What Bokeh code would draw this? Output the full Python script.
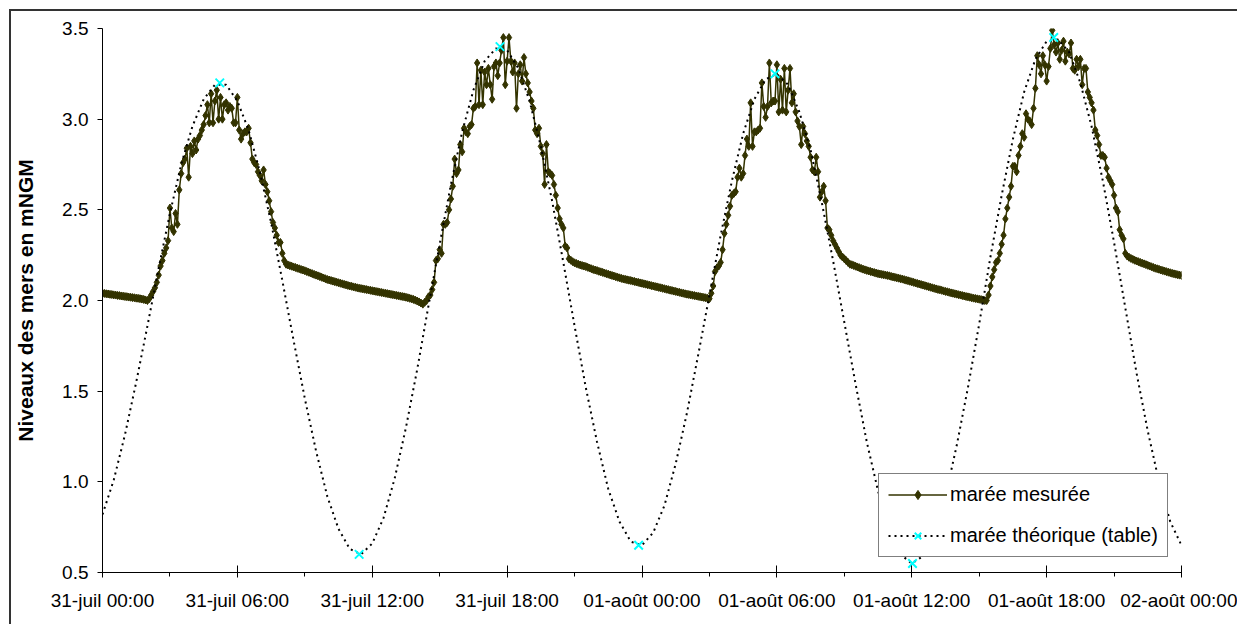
import pandas as pd
from bokeh.plotting import figure
from bokeh.models import (Range1d, FixedTicker, NumeralTickFormatter, CustomJSTickFormatter,
                          Legend, LegendItem)
from bokeh.embed import file_html
from bokeh.resources import INLINE

start = "2009-07-31 00:00"

# measured tide, one value every 5 minutes (12 per hour), 31-juil 00:00 -> 02-août 00:00
measured_levels = [
    2.040, 2.039, 2.037, 2.036, 2.034, 2.033, 2.031, 2.030, 2.028, 2.027, 2.025, 2.024,
    2.022, 2.021, 2.019, 2.018, 2.016, 2.015, 2.013, 2.012, 2.010, 2.008, 2.006, 2.003,
    2.00, 2.01, 2.03, 2.05, 2.07, 2.10, 2.14, 2.19, 2.22, 2.26, 2.29, 2.33,
    2.51, 2.40, 2.38, 2.48, 2.42, 2.61, 2.70, 2.76, 2.78, 2.84, 2.68, 2.85,
    2.81, 2.88, 2.83, 2.89, 2.91, 2.94, 2.97, 3.02, 3.08, 2.98, 3.14, 2.98,
    3.10, 3.16, 3.00, 3.12, 3.00, 3.08, 3.09, 3.05, 3.07, 3.06, 2.98, 2.98,
    3.12, 2.94, 2.89, 2.92, 2.93, 2.93, 2.95, 2.87, 2.78, 2.76, 2.75, 2.71,
    2.69, 2.66, 2.72, 2.64, 2.60, 2.55, 2.49, 2.43, 2.40, 2.36, 2.32, 2.32,
    2.26, 2.22, 2.200, 2.196, 2.192, 2.189, 2.185, 2.182, 2.178, 2.175, 2.171, 2.168,
    2.164, 2.160, 2.156, 2.152, 2.148, 2.144, 2.140, 2.136, 2.132, 2.128, 2.124, 2.120,
    2.116, 2.113, 2.110, 2.107, 2.104, 2.101, 2.098, 2.095, 2.092, 2.089, 2.086, 2.083,
    2.080, 2.078, 2.075, 2.073, 2.070, 2.068, 2.066, 2.064, 2.062, 2.060, 2.058, 2.056,
    2.054, 2.052, 2.050, 2.048, 2.046, 2.044, 2.042, 2.040, 2.038, 2.036, 2.034, 2.032,
    2.030, 2.028, 2.026, 2.024, 2.022, 2.020, 2.018, 2.015, 2.012, 2.009, 2.006, 2.002,
    1.997, 1.992, 1.986, 1.980, 1.99, 2.00, 2.02, 2.03, 2.06, 2.10, 2.22, 2.23,
    2.28, 2.26, 2.42, 2.42, 2.43, 2.50, 2.56, 2.63, 2.78, 2.70, 2.72, 2.86,
    2.82, 2.95, 2.93, 2.92, 2.96, 2.97, 3.06, 3.07, 3.31, 3.08, 3.27, 3.08,
    3.26, 3.19, 3.28, 3.19, 3.11, 3.29, 3.31, 3.24, 3.31, 3.38, 3.45, 3.19,
    3.32, 3.45, 3.32, 3.26, 3.31, 3.06, 3.25, 3.30, 3.21, 3.34, 3.25, 3.20,
    3.15, 3.10, 3.06, 2.94, 2.92, 2.95, 2.85, 2.81, 2.64, 2.86, 2.71, 2.70,
    2.69, 2.64, 2.58, 2.51, 2.45, 2.42, 2.40, 2.30, 2.29, 2.23, 2.222, 2.214,
    2.208, 2.204, 2.200, 2.196, 2.193, 2.190, 2.187, 2.183, 2.179, 2.175, 2.171, 2.168,
    2.165, 2.161, 2.158, 2.155, 2.151, 2.148, 2.145, 2.141, 2.138, 2.135, 2.131, 2.128,
    2.125, 2.122, 2.119, 2.117, 2.114, 2.112, 2.110, 2.107, 2.105, 2.102, 2.100, 2.097,
    2.095, 2.092, 2.090, 2.087, 2.085, 2.082, 2.080, 2.077, 2.075, 2.072, 2.070, 2.067,
    2.065, 2.062, 2.060, 2.057, 2.055, 2.052, 2.050, 2.047, 2.045, 2.042, 2.040, 2.037,
    2.035, 2.033, 2.031, 2.029, 2.027, 2.025, 2.023, 2.021, 2.019, 2.017, 2.015, 2.012,
    2.01, 2.04, 2.08, 2.16, 2.18, 2.19, 2.21, 2.28, 2.37, 2.42, 2.47, 2.52,
    2.58, 2.59, 2.60, 2.68, 2.73, 2.68, 2.70, 2.80, 2.89, 2.85, 3.09, 2.85,
    2.93, 2.93, 2.94, 2.95, 3.20, 3.07, 3.01, 3.07, 3.31, 3.09, 3.10, 3.10,
    3.30, 3.04, 3.22, 3.05, 3.28, 3.04, 3.16, 3.28, 3.09, 3.14, 3.04, 2.99,
    2.96, 2.86, 2.96, 2.92, 2.88, 2.85, 2.79, 2.72, 2.71, 2.79, 2.71, 2.57,
    2.60, 2.63, 2.55, 2.40, 2.39, 2.36, 2.33, 2.31, 2.29, 2.27, 2.25, 2.24,
    2.23, 2.22, 2.21, 2.20, 2.197, 2.193, 2.189, 2.185, 2.181, 2.177, 2.173, 2.169,
    2.166, 2.163, 2.160, 2.157, 2.154, 2.151, 2.148, 2.146, 2.144, 2.142, 2.140, 2.138,
    2.136, 2.133, 2.130, 2.128, 2.125, 2.123, 2.120, 2.118, 2.115, 2.112, 2.109, 2.106,
    2.103, 2.100, 2.097, 2.094, 2.091, 2.088, 2.085, 2.082, 2.079, 2.076, 2.073, 2.070,
    2.067, 2.064, 2.061, 2.059, 2.056, 2.053, 2.050, 2.048, 2.045, 2.042, 2.040, 2.037,
    2.035, 2.032, 2.030, 2.027, 2.025, 2.022, 2.020, 2.018, 2.015, 2.013, 2.011, 2.009,
    2.007, 2.005, 2.003, 2.00, 2.00, 2.03, 2.08, 2.13, 2.17, 2.21, 2.22, 2.26,
    2.31, 2.36, 2.45, 2.51, 2.57, 2.63, 2.74, 2.74, 2.71, 2.80, 2.85, 2.92,
    2.90, 3.03, 3.00, 2.99, 2.97, 3.06, 3.17, 3.35, 3.30, 3.25, 3.35, 3.30,
    3.21, 3.29, 3.39, 3.49, 3.41, 3.37, 3.42, 3.33, 3.38, 3.43, 3.32, 3.37,
    3.36, 3.42, 3.28, 3.27, 3.33, 3.29, 3.33, 3.19, 3.28, 3.28, 3.15, 3.12,
    3.09, 3.05, 2.94, 2.91, 2.86, 2.80, 2.80, 2.79, 2.73, 2.68, 2.66, 2.64,
    2.58, 2.51, 2.49, 2.39, 2.36, 2.34, 2.26, 2.245, 2.238, 2.232, 2.227, 2.222,
    2.218, 2.214, 2.210, 2.206, 2.202, 2.198, 2.194, 2.190, 2.186, 2.182, 2.178, 2.175,
    2.172, 2.168, 2.165, 2.162, 2.159, 2.156, 2.153, 2.150, 2.147, 2.145, 2.142, 2.140,
    2.138,
]
measured_times = pd.date_range(start, periods=len(measured_levels), freq="5min")

# theoretical tide (table), one value every 30 minutes
table_levels = [
    0.82, 1.01, 1.26, 1.55, 1.86, 2.18, 2.48, 2.75, 2.96, 3.11, 3.19, 3.19,
    3.10, 2.94, 2.71, 2.43, 2.11, 1.78, 1.46, 1.17, 0.92, 0.74, 0.63, 0.60,
    0.66, 0.80, 1.02, 1.30, 1.62, 1.97, 2.31, 2.64, 2.93, 3.16, 3.32, 3.39,
    3.38, 3.28, 3.10, 2.85, 2.55, 2.21, 1.86, 1.52, 1.22, 0.96, 0.78, 0.67,
    0.65, 0.72, 0.87, 1.10, 1.38, 1.70, 2.03, 2.36, 2.66, 2.92, 3.11, 3.22,
    3.25, 3.19, 3.04, 2.83, 2.54, 2.22, 1.88, 1.54, 1.22, 0.95, 0.73, 0.60,
    0.55, 0.59, 0.72, 0.92, 1.20, 1.52, 1.87, 2.24, 2.58, 2.89, 3.15, 3.33,
    3.43, 3.44, 3.37, 3.20, 2.96, 2.66, 2.32, 1.96, 1.60, 1.28, 1.00, 0.78,
    0.65,
]
table_times = pd.date_range(start, periods=len(table_levels), freq="30min")

# high / low water of the table
extreme_times = pd.to_datetime([
    "2009-07-31 05:13", "2009-07-31 11:25", "2009-07-31 17:41", "2009-07-31 23:51",
    "2009-08-01 05:55", "2009-08-01 12:02", "2009-08-01 18:19",
])
extreme_levels = [3.20, 0.60, 3.40, 0.65, 3.25, 0.55, 3.45]

tick_labels = ["31-juil 00:00", "31-juil 06:00", "31-juil 12:00", "31-juil 18:00",
               "01-août 00:00", "01-août 06:00", "01-août 12:00", "01-août 18:00",
               "02-août 00:00"]
y_ticks = [0.5, 1.0, 1.5, 2.0, 2.5, 3.0, 3.5]

FONT = "Liberation Sans"
t0 = pd.Timestamp(start)
t0_ms = int(t0.value // 10**6)
six_h = 6 * 3600 * 1000
three_h = 3 * 3600 * 1000

p = figure(width=1228, height=615, x_axis_type="datetime",
           x_range=Range1d(t0, t0 + pd.Timedelta(hours=48)),
           y_range=Range1d(0.5, 3.5),
           output_backend="svg", toolbar_location=None,
           min_border_left=90, min_border_right=58, min_border_top=17, min_border_bottom=54)
p.styles = {"margin-left": "9px", "margin-top": "9px",
            "border-left": "2px solid #333333", "border-top": "2px solid #333333"}
p.outline_line_color = None
p.xgrid.visible = False
p.ygrid.visible = False
p.background_fill_color = "white"
p.border_fill_color = "white"

r_line = p.line(measured_times, measured_levels, line_color="#333300", line_width=1.5)
r_pts = p.scatter(measured_times, measured_levels, marker="diamond", size=8,
                  fill_color="#333300", line_color="#333300", line_width=1)
r_tab = p.line(table_times, table_levels, line_color="black", line_width=2, line_dash="2 4")
r_ext = p.scatter(extreme_times, extreme_levels, marker="x", size=12,
                  line_color="#00FFFF", line_width=2)

# x axis
p.xaxis.ticker = FixedTicker(ticks=[t0_ms + k * six_h for k in range(len(tick_labels))],
                             minor_ticks=[t0_ms + k * three_h for k in range(2 * len(tick_labels) - 1)])
p.xaxis.formatter = CustomJSTickFormatter(
    args=dict(labels=tick_labels, t0=t0_ms, step=six_h),
    code="const k = Math.round((tick - t0) / step); return labels[k] || '';")
p.xaxis.major_tick_in = 7
p.xaxis.major_tick_out = 5
p.xaxis.minor_tick_in = 0
p.xaxis.minor_tick_out = 4
p.xaxis.major_label_standoff = 12

# y axis
p.yaxis.ticker = FixedTicker(ticks=y_ticks)
p.yaxis.formatter = NumeralTickFormatter(format="0.0")
p.yaxis.major_tick_in = 0
p.yaxis.major_tick_out = 5
p.yaxis.major_label_standoff = 9
p.yaxis.axis_label = "Niveaux des mers en mNGM"
p.yaxis.axis_label_text_font = FONT
p.yaxis.axis_label_text_font_style = "bold"
p.yaxis.axis_label_text_font_size = "21px"
p.yaxis.axis_label_text_color = "black"
p.yaxis.axis_label_standoff = 22

for ax in (p.xaxis, p.yaxis):
    ax.axis_line_color = "black"
    ax.axis_line_width = 1
    ax.major_tick_line_color = "black"
    ax.minor_tick_line_color = "black"
    ax.major_label_text_font = FONT
    ax.major_label_text_font_size = "19px"
    ax.major_label_text_color = "black"

legend = Legend(items=[
    LegendItem(label="marée mesurée", renderers=[r_line, r_pts]),
    LegendItem(label="marée théorique (table)", renderers=[r_tab, r_ext]),
], location=(776, 15))
legend.border_line_color = "black"
legend.border_line_width = 1
legend.background_fill_color = "white"
legend.background_fill_alpha = 1
legend.label_text_font = FONT
legend.label_text_font_size = "20px"
legend.label_text_color = "black"
legend.glyph_width = 59
legend.glyph_height = 23
legend.label_height = 23
legend.spacing = 18
legend.padding = 9
legend.margin = 0
legend.label_standoff = 3
p.add_layout(legend)

open("out.html", "w").write(file_html(p, INLINE))
